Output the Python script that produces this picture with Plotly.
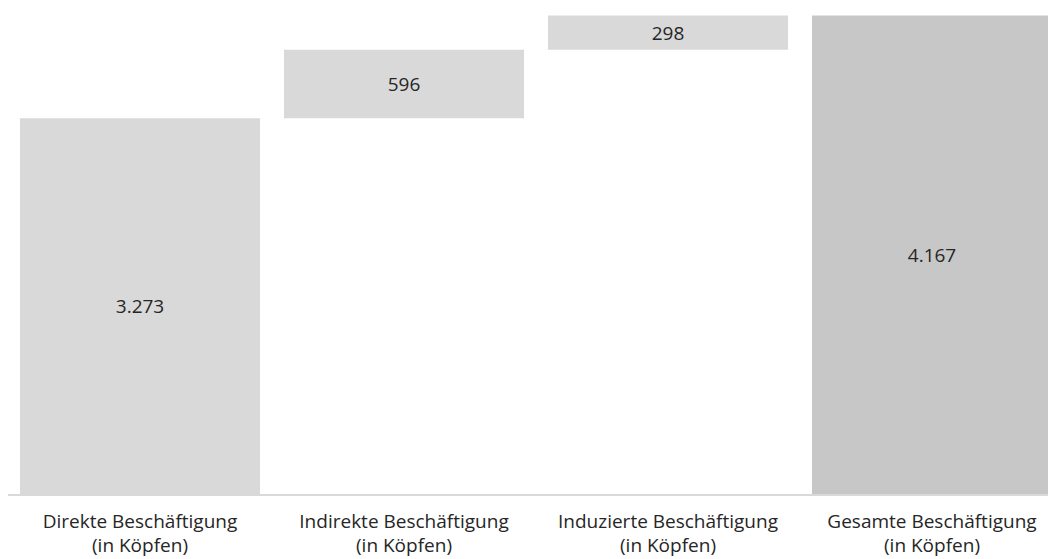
import plotly.graph_objects as go

categories = [
    "Direkte Beschäftigung<br>(in Köpfen)",
    "Indirekte Beschäftigung<br>(in Köpfen)",
    "Induzierte Beschäftigung<br>(in Köpfen)",
    "Gesamte Beschäftigung<br>(in Köpfen)",
]
values = [3273, 596, 298, 4167]
measures = ["relative", "relative", "relative", "total"]

labels = [f"{v:,}".replace(",", ".") for v in values]

FONT = "Open Sans"
SIZE = 19

fig = go.Figure(
    go.Waterfall(
        x=list(range(len(categories))),
        y=values,
        measure=measures,
        base=0,
        text=labels,
        textposition="inside",
        insidetextanchor="middle",
        textfont=dict(family=FONT, size=SIZE, color="#262626"),
        width=0.909,
        connector=dict(visible=False),
        increasing=dict(marker=dict(color="#d9d9d9", line=dict(width=0))),
        decreasing=dict(marker=dict(color="#d9d9d9", line=dict(width=0))),
        totals=dict(marker=dict(color="#c7c7c7", line=dict(width=0))),
        hoverinfo="skip",
    )
)

fig.update_layout(
    width=1048,
    height=559,
    margin=dict(l=8, r=0, t=0, b=65),
    paper_bgcolor="white",
    plot_bgcolor="white",
    showlegend=False,
    separators=",.",
    font=dict(family=FONT, size=SIZE, color="#262626"),
    xaxis=dict(
        range=[-0.5, -0.5 + 1040 / 264],
        tickmode="array",
        tickvals=list(range(len(categories))),
        ticktext=categories,
        showgrid=False,
        zeroline=False,
        showline=True,
        linecolor="#d9d9d9",
        linewidth=1.5,
        ticks="",
        ticklabelstandoff=9,
        tickfont=dict(family=FONT, size=SIZE, color="#262626"),
    ),
    yaxis=dict(
        range=[0, 4302],
        visible=False,
        showgrid=False,
        zeroline=False,
    ),
)

fig.write_html("out.html")
